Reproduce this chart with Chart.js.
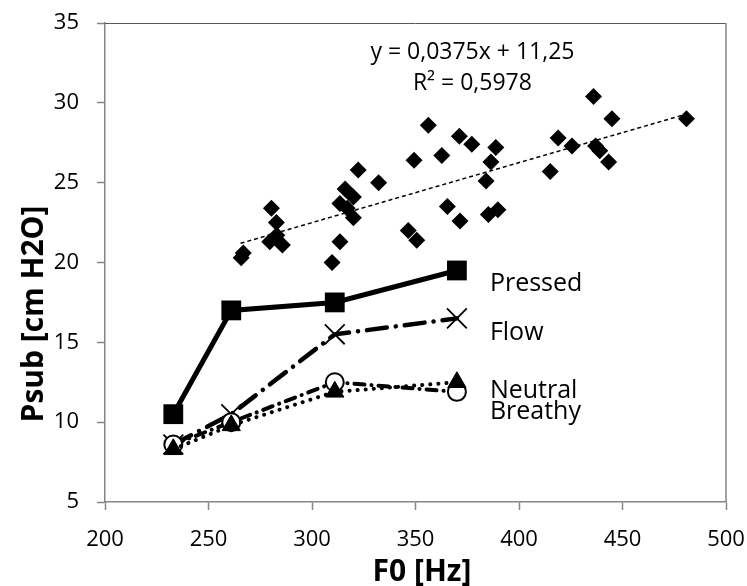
<!DOCTYPE html>
<html>
<head>
<meta charset="utf-8">
<script src="https://cdn.jsdelivr.net/npm/chart.js@4.4.1/dist/chart.umd.min.js"></script>
<style>
  html, body { margin: 0; padding: 0; background: #fff; }
  #wrap { width: 747px; height: 586px; position: relative; }
</style>
</head>
<body>
<div id="wrap"><canvas id="chart"></canvas></div>
<script>
// individual tokens: F0 [Hz] and Psub [cm H2O]
var scatterF0 = [265.8, 266.8, 280.4, 282.8, 279.6, 285.7, 283.0, 309.7, 313.5, 322.3, 332.2,
  316.0, 320.0, 313.5, 317.0, 320.0, 349.3, 346.5, 350.6, 356.2, 362.7, 371.2, 377.2, 388.8,
  386.4, 384.1, 365.4, 371.5, 385.2, 389.8, 418.9, 425.6, 415.1, 436.0, 444.9, 437.0, 439.0,
  443.3, 480.9];
var scatterPsub = [20.3, 20.6, 23.4, 22.5, 21.3, 21.1, 21.7, 20.0, 21.3, 25.8, 25.0,
  24.6, 24.1, 23.7, 23.4, 22.8, 26.4, 22.0, 21.4, 28.6, 26.7, 27.9, 27.4, 27.2,
  26.3, 25.1, 23.5, 22.6, 23.0, 23.3, 27.8, 27.3, 25.7, 30.4, 29.0, 27.3, 27.0,
  26.3, 29.0];

// linear trendline, ends
var trendF0 = [265.5, 481];
var trendPsub = [21.2, 29.3];
var trendText = ['y = 0,0375x + 11,25', 'R\u00b2 = 0,5978'];

// mean curves per phonation mode
var modeF0 = [233, 261, 311, 370];
var pressed = [10.5, 17.0, 17.5, 19.5];
var flow = [8.6, 10.5, 15.5, 16.5];
var neutral = [8.3, 9.8, 11.9, 12.5];
var breathy = [8.6, 10.0, 12.5, 11.9];
var modeNames = ['Pressed', 'Flow', 'Neutral', 'Breathy'];

var xTitle = 'F0 [Hz]';
var yTitle = 'Psub [cm H2O]';

function pts(xs, ys) {
  return xs.map(function(x, i) { return { x: x, y: ys[i] }; });
}

var FONT = "'Open Sans', sans-serif";
var AXIS = '#868686';

// text next to the last point of each curve: [dx, baseline dy]
var labelOffsets = { Pressed: [33, 21], Flow: [33, 22], Neutral: [33, 16], Breathy: [33, 27] };

var extras = {
  id: 'extras',
  afterDatasetsDraw: function(chart) {
    var ctx = chart.ctx, a = chart.chartArea;
    var xs = chart.scales.x, ys = chart.scales.y;
    ctx.save();
    // plot frame, top and right
    ctx.strokeStyle = '#595959'; ctx.lineWidth = 1;
    ctx.beginPath(); ctx.moveTo(a.left, a.top + 0.5); ctx.lineTo(a.right, a.top + 0.5); ctx.stroke();
    ctx.strokeStyle = AXIS; ctx.lineWidth = 1.5;
    ctx.beginPath(); ctx.moveTo(a.right, a.top); ctx.lineTo(a.right, a.bottom); ctx.stroke();

    ctx.fillStyle = '#000';
    // curve labels
    ctx.font = '25px ' + FONT;
    ctx.textAlign = 'left'; ctx.textBaseline = 'alphabetic';
    chart.data.datasets.forEach(function(ds) {
      var off = labelOffsets[ds.label];
      if (!off) return;
      var last = ds.data[ds.data.length - 1];
      ctx.fillText(ds.label, xs.getPixelForValue(last.x) + off[0], ys.getPixelForValue(last.y) + off[1]);
    });
    // trendline equation
    ctx.font = '23px ' + FONT;
    ctx.textAlign = 'center';
    var ex = xs.getPixelForValue(377.5);
    ctx.fillText(trendText[0], ex, a.top + 36);
    ctx.fillText(trendText[1], ex, a.top + 67);
    // axis titles
    ctx.font = 'bold 30px ' + FONT;
    ctx.fillText(xTitle, 422, 581);
    ctx.translate(43, 314);
    ctx.rotate(-Math.PI / 2);
    ctx.fillText(yTitle, 0, 0);
    ctx.restore();
  }
};

new Chart(document.getElementById('chart'), {
  type: 'scatter',
  data: {
    datasets: [
      {
        label: 'Neutral', data: pts(modeF0, neutral), showLine: true,
        borderColor: '#000', borderWidth: 4, borderDash: [0.1, 8], borderCapStyle: 'round',
        pointStyle: 'triangle', pointRadius: 10.5, pointBackgroundColor: '#000', pointBorderColor: '#000', pointBorderWidth: 1
      },
      {
        label: 'Breathy', data: pts(modeF0, breathy), showLine: true,
        borderColor: '#000', borderWidth: 4, borderDash: [10, 7, 0.1, 7], borderCapStyle: 'round',
        pointStyle: 'circle', pointRadius: 9, pointBackgroundColor: '#fff', pointBorderColor: '#000', pointBorderWidth: 2
      },
      {
        label: 'Flow', data: pts(modeF0, flow), showLine: true,
        borderColor: '#000', borderWidth: 4.5, borderDash: [20, 9, 0.1, 9], borderCapStyle: 'round',
        pointStyle: 'crossRot', pointRadius: 14, pointBorderColor: '#000', pointBorderWidth: 1.8
      },
      {
        label: 'Pressed', data: pts(modeF0, pressed), showLine: true,
        borderColor: '#000', borderWidth: 5,
        pointStyle: 'rect', pointRadius: 14, pointBackgroundColor: '#000', pointBorderColor: '#000', pointBorderWidth: 0
      },
      {
        label: 'trend', data: pts(trendF0, trendPsub), showLine: true,
        borderColor: '#000', borderWidth: 1.5, borderDash: [4, 3], pointRadius: 0
      },
      {
        label: 'tokens', data: pts(scatterF0, scatterPsub),
        pointStyle: 'rectRot', pointRadius: 8.5, pointBackgroundColor: '#000', pointBorderColor: '#000', pointBorderWidth: 0
      }
    ]
  },
  options: {
    responsive: true,
    maintainAspectRatio: false,
    animation: false,
    layout: { autoPadding: false, padding: { left: 0, right: 21, top: 23, bottom: 0 } },
    plugins: { legend: { display: false }, tooltip: { enabled: false } },
    scales: {
      x: {
        type: 'linear', min: 200, max: 500,
        ticks: { stepSize: 50, color: '#000', font: { family: FONT, size: 22 }, padding: 17, maxRotation: 0 },
        grid: { drawOnChartArea: false, drawTicks: true, tickLength: 8, tickColor: AXIS, tickWidth: 1.5 },
        border: { color: AXIS, width: 1.5 },
        afterFit: function(s) { s.height = 84; s.paddingLeft = 0; s.paddingRight = 0; }
      },
      y: {
        type: 'linear', min: 5, max: 35,
        ticks: { stepSize: 5, color: '#000', font: { family: FONT, size: 22 }, padding: 18 },
        grid: { drawOnChartArea: false, drawTicks: true, tickLength: 8, tickColor: AXIS, tickWidth: 1.5 },
        border: { color: AXIS, width: 1.5 },
        afterFit: function(s) { s.width = 105; s.paddingTop = 0; s.paddingBottom = 0; }
      }
    }
  },
  plugins: [extras]
});
</script>
</body>
</html>
